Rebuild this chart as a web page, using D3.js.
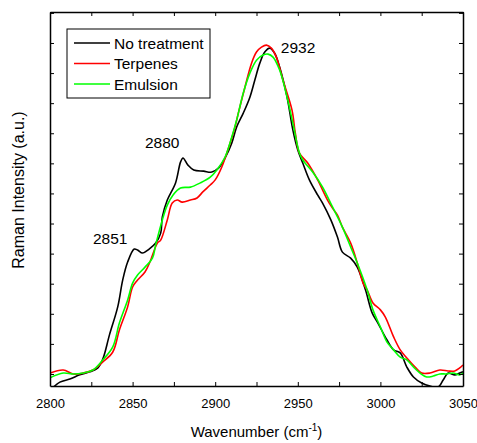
<!DOCTYPE html>
<html>
<head>
<meta charset="utf-8">
<script src="https://cdn.jsdelivr.net/npm/d3@7"></script>
<style>
  body { margin: 0; background: #fff; }
  svg text { font-family: "Liberation Sans", Arial, sans-serif; fill: #000; }
</style>
</head>
<body>
<div class="chart"></div>
<script>
// wavenumber (cm-1) / intensity (a.u.)
const wnNone = [2800, 2806, 2812, 2818, 2824, 2829, 2832, 2836, 2841, 2844, 2847, 2851, 2853, 2856, 2860, 2864, 2867, 2868, 2871, 2876, 2879, 2880.5, 2883.5, 2887, 2893, 2898, 2902, 2906, 2910, 2913, 2917, 2921, 2924, 2927, 2930, 2933, 2936, 2939, 2943.5, 2947, 2950, 2953, 2957, 2962, 2965, 2970, 2974, 2977, 2982, 2986, 2991, 2995, 2998.5, 3004, 3008, 3012, 3016, 3020, 3025, 3030, 3035, 3038, 3041, 3045, 3048, 3050];
const intNone = [-0.55, -0.27, -0.17, -0.03, 0.07, 0.2, 0.5, 1.3, 2.23, 3.12, 3.72, 4.15, 4.12, 4.02, 4.15, 4.35, 4.68, 5.22, 5.78, 6.35, 7.04, 7.18, 6.94, 6.78, 6.74, 6.71, 6.84, 7.18, 7.67, 8.21, 8.67, 9.2, 9.77, 10.33, 10.7, 10.83, 10.66, 10.2, 9.2, 8.11, 7.44, 7.01, 6.45, 5.95, 5.68, 5.12, 4.55, 4.05, 3.85, 3.55, 2.79, 2.03, 1.69, 1.13, 0.8, 0.7, 0.23, -0.1, -0.3, -0.4, -0.43, -0.2, 0.03, -0.03, 0.03, 0.07];

const wnTerp = [2800, 2808, 2814, 2820, 2826, 2832, 2838, 2842, 2847, 2850, 2853, 2857.5, 2860.5, 2865, 2867, 2871, 2874, 2877, 2880, 2885, 2889, 2892.5, 2897, 2900, 2904, 2909, 2912, 2914, 2918, 2922, 2925, 2928, 2931, 2934, 2937, 2941, 2946.5, 2948.5, 2951, 2956, 2962, 2968, 2971, 2974, 2977, 2982, 2986, 2989.5, 2992, 2995.5, 3000, 3003, 3008, 3012, 3016, 3021, 3025, 3030, 3036, 3041, 3045, 3048, 3050];
const intTerp = [0.03, 0.13, 0.0, 0.03, 0.13, 0.4, 0.73, 1.46, 2.23, 2.89, 3.12, 3.39, 3.72, 4.35, 4.45, 5.12, 5.68, 5.78, 5.71, 5.78, 5.85, 6.05, 6.28, 6.45, 6.88, 7.67, 8.21, 8.67, 9.53, 10.33, 10.7, 10.86, 10.93, 10.83, 10.53, 9.77, 8.77, 8.0, 7.34, 7.01, 6.45, 5.78, 5.51, 5.28, 4.88, 4.35, 3.69, 3.02, 2.79, 2.36, 2.13, 1.89, 1.23, 0.8, 0.53, 0.23, 0.03, 0.03, 0.13, 0.1, 0.1, 0.2, 0.3];

const wnEmul = [2800, 2808, 2814, 2820, 2826, 2832, 2838, 2842, 2847, 2850, 2853, 2857.5, 2862, 2864, 2868, 2871, 2874.5, 2879, 2885, 2891, 2897, 2901, 2906, 2910, 2913, 2917, 2921, 2925, 2929, 2932, 2935, 2939, 2943.5, 2947, 2951, 2953, 2959, 2965, 2971, 2977, 2982, 2986, 2992, 2995.5, 3000, 3004, 3008, 3012, 3016, 3020, 3024, 3028, 3032, 3036, 3040, 3044, 3048, 3050];
const intEmul = [-0.13, 0.03, 0.0, 0.03, 0.13, 0.47, 0.9, 1.69, 2.46, 3.02, 3.29, 3.55, 3.85, 4.3, 5.12, 5.61, 5.95, 6.18, 6.21, 6.35, 6.54, 6.78, 7.21, 7.87, 8.44, 9.34, 10.0, 10.43, 10.6, 10.63, 10.53, 10.1, 9.2, 8.34, 7.34, 7.11, 6.71, 6.21, 5.55, 4.88, 4.22, 3.69, 2.79, 2.13, 1.56, 1.06, 0.8, 0.56, 0.47, 0.23, 0.03, -0.1, -0.07, 0.0, 0.0, 0.03, -0.03, 0.03];

const seriesNames = ["No treatment", "Terpenes", "Emulsion"];
const seriesColors = ["#000000", "#ff0000", "#00ff00"];

const peakWn = [2851, 2880, 2932];
const peakInt = [4.15, 7.18, 10.83];

const xTicks = [2800, 2850, 2900, 2950, 3000, 3050];

const margin = { top: 12, right: 14, bottom: 57, left: 50 };
const W = 477, H = 443;
const width = W - margin.left - margin.right;
const height = H - margin.top - margin.bottom;

const x = d3.scaleLinear().domain([2800, 3050]).range([0, width]);
const y = d3.scaleLinear().domain([-0.4, 12.03]).range([height, 0]);

const svg = d3.select(".chart").append("svg")
  .attr("width", W).attr("height", H);
const g = svg.append("g").attr("transform", `translate(${margin.left},${margin.top})`);

g.append("clipPath").attr("id", "clip")
  .append("rect").attr("width", width).attr("height", height);

const series = [
  { name: seriesNames[0], color: seriesColors[0], values: wnNone.map((w, i) => [w, intNone[i]]) },
  { name: seriesNames[1], color: seriesColors[1], values: wnTerp.map((w, i) => [w, intTerp[i]]) },
  { name: seriesNames[2], color: seriesColors[2], values: wnEmul.map((w, i) => [w, intEmul[i]]) }
];

const line = d3.line()
  .x(d => x(d[0]))
  .y(d => y(d[1]))
  .curve(d3.curveCatmullRom.alpha(0.5));

// black first, then red, green on top
g.append("g").attr("clip-path", "url(#clip)")
  .selectAll("path")
  .data(series)
  .join("path")
  .attr("d", d => line(d.values))
  .attr("fill", "none")
  .attr("stroke", d => d.color)
  .attr("stroke-width", 1.6);

// axes, ticks pointing inward
const minor = d3.range(2800, 3051, 25);
const fmt = d => xTicks.includes(d) ? d : "";

g.append("g")
  .attr("transform", `translate(0,${height})`)
  .call(d3.axisBottom(x).tickValues(minor).tickFormat(fmt).tickSizeInner(-4).tickSizeOuter(0).tickPadding(13))
  .call(a => a.selectAll("text").style("font-size", "13px"));

g.append("g")
  .call(d3.axisTop(x).tickValues(minor).tickFormat("").tickSizeInner(-4).tickSizeOuter(0));

const yTicks = d3.range(0, 13, 1);
g.append("g")
  .call(d3.axisLeft(y).tickValues(yTicks).tickFormat("").tickSizeInner(-4).tickSizeOuter(0));
g.append("g")
  .attr("transform", `translate(${width},0)`)
  .call(d3.axisRight(y).tickValues(yTicks).tickFormat("").tickSizeInner(-4).tickSizeOuter(0));

g.selectAll(".domain").attr("stroke", "#000").attr("stroke-width", 1.5);
g.selectAll(".tick line").attr("stroke", "#000").attr("stroke-width", 1);

// peak labels
const labelDx = [-24, -20, 30];
const labelDy = [-5, -10, 5];
g.selectAll(".peak")
  .data(peakWn)
  .join("text")
  .attr("class", "peak")
  .attr("x", (d, i) => x(d) + labelDx[i])
  .attr("y", (d, i) => y(peakInt[i]) + labelDy[i])
  .attr("text-anchor", "middle")
  .style("font-size", "15.5px")
  .text(d => d);

// legend
const leg = g.append("g").attr("transform", "translate(17,17)");
leg.append("rect")
  .attr("width", 143).attr("height", 69)
  .attr("fill", "#fff").attr("stroke", "#000").attr("stroke-width", 1);
series.forEach((s, i) => {
  const ly = 14 + i * 20.5;
  leg.append("line")
    .attr("x1", 7).attr("x2", 43).attr("y1", ly).attr("y2", ly)
    .attr("stroke", s.color).attr("stroke-width", 1.6);
  leg.append("text")
    .attr("x", 47).attr("y", ly).attr("dy", "0.36em")
    .style("font-size", "15.5px")
    .text(s.name);
});

// axis titles
const xt = svg.append("text")
  .attr("x", margin.left + width / 2)
  .attr("y", 437)
  .attr("text-anchor", "middle")
  .style("font-size", "15px");
xt.append("tspan").text("Wavenumber (cm");
xt.append("tspan").attr("dy", -6).style("font-size", "10px").text("-1");
xt.append("tspan").attr("dy", 6).text(")");

svg.append("text")
  .attr("transform", `translate(24,190) rotate(-90)`)
  .attr("text-anchor", "middle")
  .style("font-size", "16px")
  .text("Raman Intensity (a.u.)");
</script>
</body>
</html>
